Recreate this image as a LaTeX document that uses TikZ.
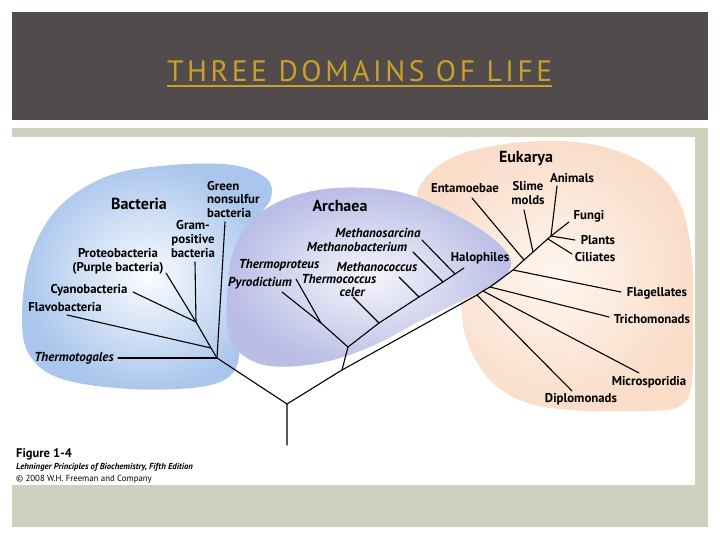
\documentclass[tikz,border=0pt]{standalone}
\usepackage{fontspec}
\setmainfont{PT Sans}
\usepackage{graphicx}
\definecolor{hdr}{RGB}{82,75,75}
\definecolor{panel}{RGB}{205,209,190}
\definecolor{gold}{RGB}{200,160,42}
\definecolor{bacOut}{RGB}{170,198,236}
\definecolor{bacIn}{RGB}{250,252,255}
\definecolor{arcOut}{RGB}{186,189,230}
\definecolor{arcIn}{RGB}{245,245,251}
\definecolor{eukOut}{RGB}{249,221,201}
\definecolor{eukIn}{RGB}{255,246,239}
\begin{document}
\begin{tikzpicture}[x=1pt,y=-1pt,
  lbl/.style={font=\bfseries\fontsize{12.8}{13.8}\selectfont, inner sep=0pt, align=center},
  ilbl/.style={font=\bfseries\itshape\fontsize{13}{13.8}\selectfont, inner sep=0pt, align=center},
  dom/.style={font=\bfseries\fontsize{16}{17}\selectfont, inner sep=0pt},
  br/.style={line width=1.1pt, black, line cap=round, line join=round}]
\useasboundingbox (0,0) rectangle (720,540);
\fill[white] (0,0) rectangle (720,540);
\fill[hdr] (12,12) rectangle (708,120);
\fill[panel] (12,128) rectangle (708,527);
\fill[white] (12,137) rectangle (695,485);
% title
\node[anchor=south west, inner sep=0pt, text=gold] (title) at (167,82)
  {\resizebox{385pt}{21pt}{\addfontfeature{LetterSpace=12}THREE DOMAINS OF LIFE}};
\draw[gold, line width=2pt] (title.south west) ++(0,4) -- ([yshift=-4pt]title.south east);
% blobs
\shade[inner color=bacIn, outer color=bacOut] plot[smooth cycle, tension=0.6] coordinates
  {(22,318) (30,258) (58,208) (108,176) (172,165) (232,165) (266,178) (271,198) (254,222) (242,250) (238,300) (240,345) (232,374) (200,387) (130,389) (62,379) (30,356)};
\shade[inner color=eukIn, outer color=eukOut] plot[smooth cycle, tension=0.6] coordinates
  {(417,195) (438,166) (478,149) (540,141) (600,146) (650,167) (680,203) (692,260) (693,330) (691,388) (678,407) (645,411) (570,410) (522,401) (487,377) (466,338) (460,300) (450,262) (430,228)};
\shade[inner color=arcIn, outer color=arcOut] plot[smooth cycle, tension=0.6] coordinates
  {(227,300) (232,256) (250,222) (285,199) (335,188) (395,191) (440,207) (480,229) (504,249) (511,264) (499,282) (465,299) (420,321) (370,347) (320,363) (270,366) (240,353) (228,330)};
% domain titles
\node[dom] (bac) at (139,204) {Bacteria};
\node[dom] (arc) at (340,206) {Archaea};
\node[dom] (euk) at (526,159) {Eukarya};
% bacteria labels
\node[lbl, anchor=west, align=left] (green) at (207,199.5) {Green\\nonsulfur\\bacteria};
\node[lbl] (gram) at (193,239) {Gram-\\positive\\bacteria};
\node[lbl] (proteo) at (118,261) {Proteobacteria\\(Purple bacteria)};
\node[lbl] (cyano) at (89,290) {Cyanobacteria};
\node[lbl] (flavo) at (65,307) {Flavobacteria};
\node[ilbl] (thermotog) at (74,358) {Thermotogales};
% archaea labels
\node[ilbl] (msarc) at (378,233) {Methanosarcina};
\node[ilbl] (mbact) at (357,247) {Methanobacterium};
\node[ilbl] (tprot) at (279,265) {Thermoproteus};
\node[ilbl] (mcocc) at (377,267) {Methanococcus};
\node[ilbl] (pyro) at (260,283) {Pyrodictium};
\node[ilbl, align=left] (tcocc) at (339,285.5) {Thermococcus\\\hspace*{38pt}celer};
\node[lbl] (halo) at (480,258) {Halophiles};
% eukarya labels
\node[lbl] (entam) at (465,188) {Entamoebae};
\node[lbl] (slime) at (528,193) {Slime\\molds};
\node[lbl] (anim) at (572,178) {Animals};
\node[lbl] (fungi) at (589,216) {Fungi};
\node[lbl] (plants) at (598,240) {Plants};
\node[lbl] (cilia) at (595,257) {Ciliates};
\node[lbl] (flag) at (657,293) {Flagellates};
\node[lbl] (tricho) at (652,319) {Trichomonads};
\node[lbl] (micro) at (649,382) {Microsporidia};
\node[lbl] (diplo) at (581,399) {Diplomonads};
% caption
\node[anchor=base west, inner sep=0pt, font=\bfseries\fontsize{12.5}{14}\selectfont] (fig) at (16,457) {Figure 1-4};
\node[anchor=base west, inner sep=0pt, font=\bfseries\itshape\fontsize{8.7}{10}\selectfont] (leh) at (16,469) {Lehninger Principles of Biochemistry, Fifth Edition};
\node[anchor=base west, inner sep=0pt, font=\fontsize{8.8}{10}\selectfont] (copy) at (16,481) {© 2008 W.H. Freeman and Company};
% tree coordinates
\coordinate (R0) at (287,445);
\coordinate (R) at (287,404);
\coordinate (B0) at (217,358);
\coordinate (Bf) at (211,348);
\coordinate (B1) at (196,322);
\coordinate (eThg) at (118,358);
\coordinate (eGreen) at (225,222);
\coordinate (eFlavo) at (67,315);
\coordinate (eGram) at (195,262);
\coordinate (eProteo) at (166,273);
\coordinate (eCyano) at (133,292);
\coordinate (Aj) at (342,370);
\coordinate (A0) at (348,347);
\coordinate (A1) at (321,323);
\coordinate (ePyro) at (282,292);
\coordinate (eTprot) at (296,279);
\coordinate (Atc) at (379,323);
\coordinate (Amc) at (419,297);
\coordinate (Amb) at (443,282);
\coordinate (Ams) at (455,274);
\coordinate (eHalo) at (464,268);
\coordinate (eTcocc) at (353,297);
\coordinate (eMcocc) at (399,277);
\coordinate (eMbact) at (413,252);
\coordinate (eMsarc) at (422,240);
\coordinate (Dj) at (477,295);
\coordinate (Mj) at (483,291);
\coordinate (Trj) at (490,287);
\coordinate (Flj) at (513,270);
\coordinate (Enj) at (524,260);
\coordinate (Slj) at (533,252);
\coordinate (E0) at (551,236);
\coordinate (eDiplo) at (572,391);
\coordinate (eMicro) at (639,373);
\coordinate (eTricho) at (609,317);
\coordinate (eFlag) at (621,292);
\coordinate (eEntam) at (472,198);
\coordinate (eSlime) at (524,210);
\coordinate (eAnim) at (557,186);
\coordinate (eFungi) at (569,222);
\coordinate (ePlants) at (575,240);
\coordinate (eCilia) at (572,254);
\coordinate (Ec) at (548,239);
% tree
\draw[br] (R0) -- (R) -- (B0);
\draw[br] (eThg) -- (B0);
\draw[br] (eGreen) -- (B0);
\draw[br] (B0) -- (Bf) -- (B1);
\draw[br] (eFlavo) -- (Bf);
\draw[br] (eGram) -- (B1);
\draw[br] (eProteo) -- (B1);
\draw[br] (eCyano) -- (B1);
\draw[br] (R) -- (Aj) -- (Dj) -- (Mj) -- (Trj) -- (Flj) -- (Enj) -- (Slj) -- (E0);
\draw[br] (Aj) -- (A0) -- (A1);
\draw[br] (ePyro) -- (A1);
\draw[br] (eTprot) -- (A1);
\draw[br] (A0) -- (Atc) -- (Amc) -- (Amb) -- (Ams) -- (eHalo);
\draw[br] (eTcocc) -- (Atc);
\draw[br] (eMcocc) -- (Amc);
\draw[br] (eMbact) -- (Amb);
\draw[br] (eMsarc) -- (Ams);
\draw[br] (eDiplo) -- (Dj);
\draw[br] (eMicro) -- (Mj);
\draw[br] (eTricho) -- (Trj);
\draw[br] (eFlag) -- (Flj);
\draw[br] (eEntam) -- (Enj);
\draw[br] (eSlime) -- (Slj);
\draw[br] (eAnim) -- (E0);
\draw[br] (eFungi) -- (E0);
\draw[br] (ePlants) -- (E0);
\draw[br] (eCilia) -- (Ec);
\end{tikzpicture}
\end{document}
